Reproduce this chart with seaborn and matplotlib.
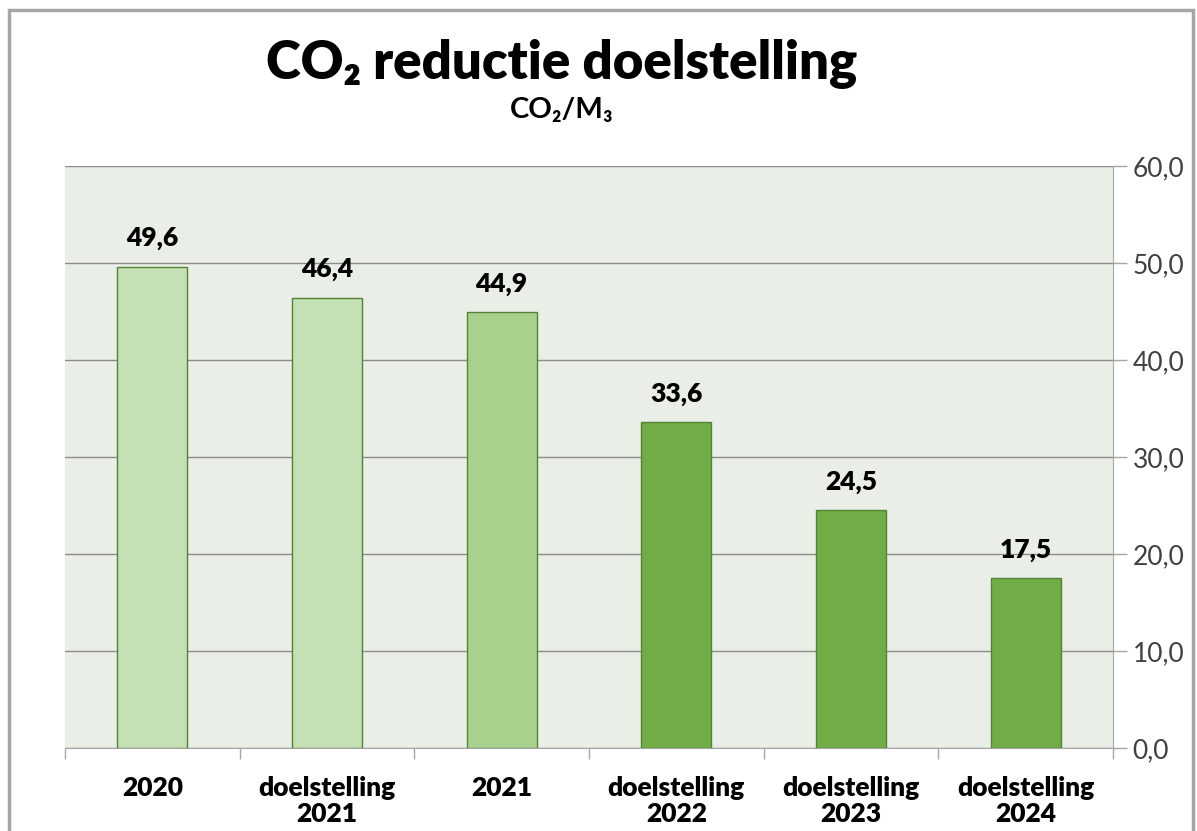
import numpy as np
import pandas as pd
import matplotlib
matplotlib.use("Agg")
import matplotlib.pyplot as plt
import seaborn as sns
from matplotlib.patches import Rectangle
from matplotlib.ticker import FuncFormatter, FixedLocator

categories = ["2020", "doelstelling\n2021", "2021", "doelstelling\n2022", "doelstelling\n2023", "doelstelling\n2024"]
values = [49.6, 46.4, 44.9, 33.6, 24.5, 17.5]
bar_colors = ["#C5E0B4", "#C5E0B4", "#A9D18E", "#70AD47", "#70AD47", "#70AD47"]

df = pd.DataFrame({"cat": categories, "val": values})

sns.set_style("white")
plt.rcParams["font.family"] = ["Lato", "DejaVu Sans"]

fig = plt.figure(figsize=(11.97, 8.31), dpi=100)
ax = fig.add_axes([0.0543, 0.0999, 0.8755, 0.7005])
ax.set_facecolor("#E9EEE7")

sns.barplot(data=df, x="cat", y="val", hue="cat", palette=bar_colors, legend=False,
            width=0.4, edgecolor="#548235", linewidth=1.0, saturation=1, ax=ax)

# value labels above the bars
for i, v in enumerate(values):
    ax.text(i, v + 1.7, f"{v:.1f}".replace(".", ","), ha="center", va="bottom",
            fontsize=19, fontweight="heavy", color="black")

ax.set_ylim(0, 60)
ax.set_xlim(-0.5, len(categories) - 0.5)
ax.set_yticks(np.arange(0, 61, 10))
ax.yaxis.set_major_formatter(FuncFormatter(lambda y, p: f"{y:.1f}".replace(".", ",")))
ax.yaxis.tick_right()
ax.tick_params(axis="y", which="major", length=10, width=1, color="#A6A6A6",
               labelsize=19, labelcolor="#404040", pad=4, right=True, left=False)
ax.grid(axis="y", color="#8C8C8C", linewidth=1)
ax.set_axisbelow(True)

ax.xaxis.set_minor_locator(FixedLocator(np.arange(-0.5, len(categories), 1)))
ax.tick_params(axis="x", which="major", length=0, labelsize=19, pad=20, labelcolor="black")
ax.tick_params(axis="x", which="minor", length=8, width=1, color="#A6A6A6", bottom=True)
for lab in ax.get_xticklabels():
    lab.set_fontweight("heavy")
    lab.set_linespacing(1.1)
ax.set_xlabel("")
ax.set_ylabel("")

for s in ["top", "left"]:
    ax.spines[s].set_visible(False)
ax.spines["right"].set_color("#A6A6A6")
ax.spines["bottom"].set_color("#A6A6A6")

fig.text(0.469, 0.923, "CO\u2082 reductie doelstelling", ha="center", va="center",
         fontsize=38, fontweight="heavy", color="black")
fig.text(0.469, 0.868, "CO\u2082/M\u2083", ha="center", va="center", fontsize=21,
         fontweight="bold", color="black")

fig.patches.append(Rectangle((9 / 1197, -0.05), 1184 / 1197, 1.05 - 10 / 831,
                             transform=fig.transFigure, fill=False,
                             edgecolor="#A6A6A6", linewidth=2.5))

fig.savefig("out.png", dpi=100)
